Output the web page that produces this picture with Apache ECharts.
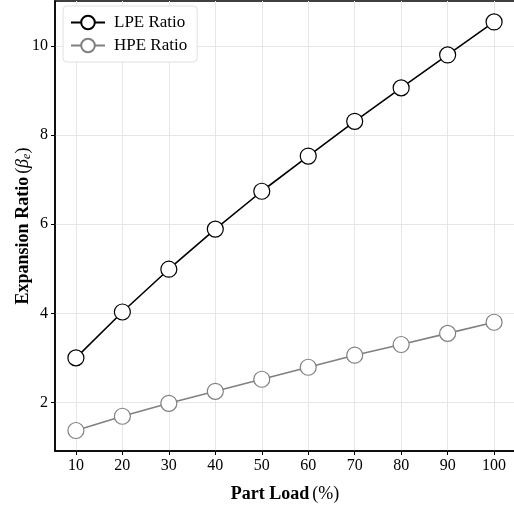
<!DOCTYPE html>
<html>
<head>
<meta charset="utf-8">
<script src="https://cdn.jsdelivr.net/npm/echarts@6/dist/echarts.min.js"></script>
<style>
  html, body { margin: 0; padding: 0; background: #fff; }
  #chart { width: 514px; height: 510px; }
</style>
</head>
<body>
<div id="chart"></div>
<script>
var partLoad = [10, 20, 30, 40, 50, 60, 70, 80, 90, 100];
var lpeRatio = [3.00, 4.03, 4.99, 5.89, 6.74, 7.53, 8.31, 9.06, 9.80, 10.54];
var hpeRatio = [1.37, 1.69, 1.98, 2.25, 2.52, 2.79, 3.06, 3.30, 3.55, 3.80];
var xTicks = [10, 20, 30, 40, 50, 60, 70, 80, 90, 100];
var yTicks = [2, 4, 6, 8, 10];

var font = '"Liberation Serif", "DejaVu Serif", serif';

function pairs(xs, ys) {
    return xs.map(function (x, i) { return [x, ys[i]]; });
}

var chart = echarts.init(document.getElementById('chart'));

chart.setOption({
    animation: false,
    backgroundColor: '#fff',
    textStyle: { fontFamily: font },
    grid: {
        left: 55, top: 1, right: -1, bottom: 59,
        show: true, borderColor: '#000', borderWidth: 1.5,
        containLabel: false,
        outerBoundsMode: 'none'
    },
    legend: {
        left: 63, top: 6,
        orient: 'vertical',
        itemWidth: 34, itemHeight: 17, itemGap: 6,
        padding: [8, 10, 8, 7],
        backgroundColor: '#fff',
        borderColor: '#e0e0e0', borderWidth: 1, borderRadius: 4,
        textStyle: { fontFamily: font, fontSize: 17, color: '#000', padding: [0, 0, 0, 4] },
        data: ['LPE Ratio', 'HPE Ratio']
    },
    xAxis: {
        type: 'value',
        min: 5.5, max: 104.5,
        name: '{b|Part Load} {n|(%)}',
        nameLocation: 'middle', nameGap: 34,
        nameMoveOverlap: false,
        nameTextStyle: {
            rich: {
                b: { fontFamily: font, fontSize: 18, fontWeight: 'bold', color: '#000' },
                n: { fontFamily: font, fontSize: 18, color: '#000' }
            }
        },
        axisLine: { lineStyle: { color: '#000', width: 1.5 } },
        axisTick: { customValues: xTicks, length: 4, lineStyle: { color: '#000' } },
        axisLabel: { customValues: xTicks, fontFamily: font, fontSize: 16, color: '#000', margin: 7 },
        splitLine: { show: true, lineStyle: { color: '#e6e6e6', width: 1 } }
    },
    yAxis: {
        type: 'value',
        min: 0.91, max: 11.01,
        name: '{b|Expansion Ratio} {n|(}{i|β}{s|e}{n|)}',
        nameLocation: 'middle', nameGap: 22,
        nameMoveOverlap: false,
        nameTextStyle: {
            rich: {
                b: { fontFamily: font, fontSize: 18, fontWeight: 'bold', color: '#000' },
                n: { fontFamily: font, fontSize: 18, color: '#000' },
                i: { fontFamily: font, fontSize: 18, fontStyle: 'italic', color: '#000' },
                s: { fontFamily: font, fontSize: 12, fontStyle: 'italic', color: '#000', padding: [7, 0, 0, 0] }
            }
        },
        axisLine: { lineStyle: { color: '#000', width: 1.5 } },
        axisTick: { show: true, customValues: yTicks, length: 4, lineStyle: { color: '#000' } },
        axisLabel: { customValues: yTicks, fontFamily: font, fontSize: 16, color: '#000', margin: 7 },
        splitLine: { show: true, lineStyle: { color: '#e6e6e6', width: 1 } }
    },
    series: [
        {
            name: 'LPE Ratio',
            type: 'line',
            data: pairs(partLoad, lpeRatio),
            symbol: 'circle', symbolSize: 16,
            lineStyle: { color: '#000', width: 1.6 },
            itemStyle: { color: '#fff', borderColor: '#000', borderWidth: 1.2 },
            z: 3
        },
        {
            name: 'HPE Ratio',
            type: 'line',
            data: pairs(partLoad, hpeRatio),
            symbol: 'circle', symbolSize: 16,
            lineStyle: { color: '#808080', width: 1.6 },
            itemStyle: { color: '#fff', borderColor: '#808080', borderWidth: 1.2 },
            z: 2
        }
    ]
});
</script>
</body>
</html>
